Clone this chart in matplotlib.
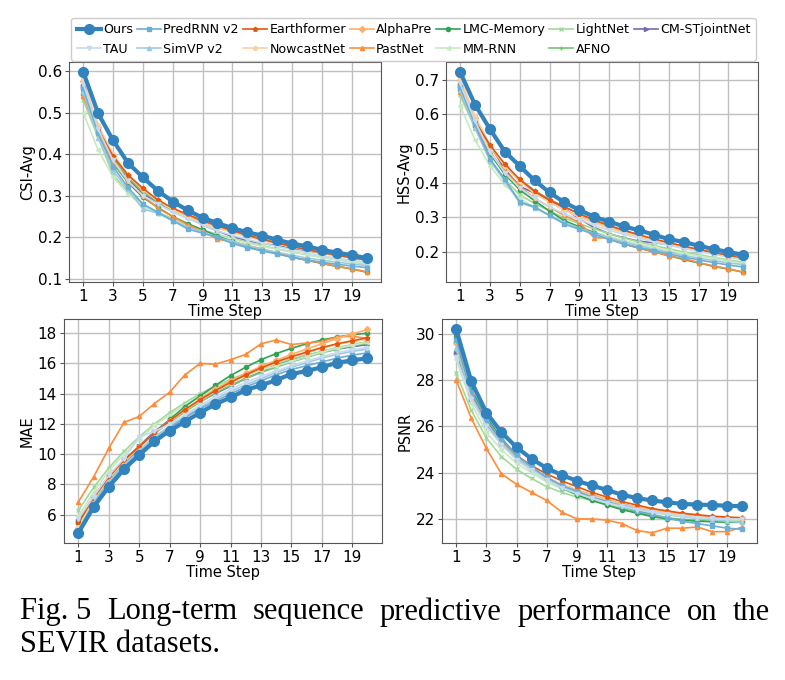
import matplotlib
matplotlib.use('Agg')
import matplotlib.pyplot as plt
import numpy as np

steps = np.arange(1, 21)

models = ['Ours', 'TAU', 'PredRNN v2', 'SimVP v2', 'Earthformer', 'NowcastNet',
          'AlphaPre', 'PastNet', 'LMC-Memory', 'MM-RNN', 'LightNet', 'AFNO',
          'CM-STjointNet']

csi = {
    'Ours': [0.598, 0.498, 0.433, 0.379, 0.344, 0.312, 0.286, 0.265, 0.247, 0.234,
             0.222, 0.212, 0.204, 0.194, 0.185, 0.178, 0.170, 0.163, 0.157, 0.150],
    'TAU': [0.57, 0.46, 0.385, 0.335, 0.30, 0.28, 0.26, 0.245, 0.23, 0.215,
            0.205, 0.195, 0.186, 0.178, 0.170, 0.163, 0.156, 0.150, 0.145, 0.140],
    'PredRNN v2': [0.56, 0.45, 0.37, 0.32, 0.28, 0.26, 0.24, 0.22, 0.21, 0.20,
                   0.185, 0.175, 0.167, 0.160, 0.152, 0.145, 0.140, 0.135, 0.131, 0.127],
    'SimVP v2': [0.55, 0.44, 0.36, 0.315, 0.268, 0.258, 0.24, 0.225, 0.213, 0.200,
                 0.190, 0.180, 0.171, 0.164, 0.157, 0.150, 0.145, 0.140, 0.136, 0.132],
    'Earthformer': [0.555, 0.46, 0.395, 0.35, 0.318, 0.29, 0.27, 0.255, 0.24, 0.228,
                    0.216, 0.205, 0.195, 0.186, 0.178, 0.170, 0.163, 0.157, 0.151, 0.145],
    'NowcastNet': [0.58, 0.47, 0.40, 0.35, 0.315, 0.288, 0.266, 0.248, 0.234, 0.222,
                   0.211, 0.201, 0.192, 0.184, 0.176, 0.169, 0.162, 0.156, 0.150, 0.145],
    'AlphaPre': [0.575, 0.465, 0.395, 0.35, 0.315, 0.29, 0.268, 0.25, 0.235, 0.224,
                 0.213, 0.203, 0.194, 0.186, 0.178, 0.171, 0.164, 0.158, 0.152, 0.147],
    'PastNet': [0.54, 0.45, 0.38, 0.335, 0.30, 0.27, 0.25, 0.23, 0.215, 0.195,
                0.19, 0.18, 0.172, 0.162, 0.152, 0.145, 0.138, 0.130, 0.124, 0.117],
    'LMC-Memory': [0.545, 0.45, 0.378, 0.332, 0.296, 0.272, 0.25, 0.233, 0.218, 0.203,
                   0.19, 0.178, 0.169, 0.161, 0.152, 0.145, 0.137, 0.130, 0.124, 0.116],
    'MM-RNN': [0.50, 0.41, 0.345, 0.305, 0.275, 0.257, 0.242, 0.228, 0.216, 0.205,
               0.195, 0.186, 0.178, 0.171, 0.164, 0.158, 0.152, 0.146, 0.141, 0.137],
    'LightNet': [0.53, 0.44, 0.35, 0.31, 0.28, 0.26, 0.245, 0.23, 0.218, 0.207,
                 0.197, 0.188, 0.180, 0.172, 0.165, 0.158, 0.152, 0.146, 0.141, 0.136],
    'AFNO': [0.565, 0.46, 0.39, 0.345, 0.31, 0.285, 0.265, 0.25, 0.238, 0.226,
             0.215, 0.205, 0.196, 0.188, 0.180, 0.172, 0.165, 0.158, 0.152, 0.146],
    'CM-STjointNet': [0.565, 0.46, 0.395, 0.34, 0.305, 0.283, 0.265, 0.25, 0.23, 0.215,
                      0.202, 0.192, 0.185, 0.180, 0.174, 0.168, 0.162, 0.157, 0.151, 0.146],
}

hss = {
    'Ours': [0.723, 0.628, 0.557, 0.491, 0.449, 0.407, 0.372, 0.343, 0.321, 0.301,
             0.287, 0.273, 0.262, 0.249, 0.236, 0.228, 0.217, 0.207, 0.199, 0.190],
    'TAU': [0.69, 0.58, 0.49, 0.43, 0.385, 0.355, 0.33, 0.31, 0.293, 0.276,
            0.262, 0.25, 0.239, 0.228, 0.218, 0.209, 0.200, 0.192, 0.184, 0.177],
    'PredRNN v2': [0.68, 0.57, 0.47, 0.41, 0.345, 0.33, 0.305, 0.28, 0.265, 0.25,
                   0.235, 0.222, 0.212, 0.203, 0.193, 0.184, 0.176, 0.168, 0.161, 0.155],
    'SimVP v2': [0.67, 0.56, 0.465, 0.405, 0.342, 0.328, 0.305, 0.285, 0.268, 0.253,
                 0.24, 0.228, 0.217, 0.207, 0.198, 0.189, 0.181, 0.174, 0.167, 0.162],
    'Earthformer': [0.675, 0.58, 0.51, 0.455, 0.41, 0.375, 0.35, 0.33, 0.31, 0.292,
                    0.276, 0.262, 0.249, 0.237, 0.226, 0.216, 0.206, 0.197, 0.188, 0.180],
    'NowcastNet': [0.705, 0.595, 0.51, 0.45, 0.405, 0.37, 0.343, 0.32, 0.30, 0.283,
                   0.268, 0.255, 0.243, 0.232, 0.222, 0.212, 0.203, 0.195, 0.187, 0.179],
    'AlphaPre': [0.70, 0.59, 0.505, 0.45, 0.405, 0.37, 0.345, 0.322, 0.302, 0.285,
                 0.27, 0.257, 0.245, 0.234, 0.224, 0.214, 0.205, 0.196, 0.188, 0.180],
    'PastNet': [0.665, 0.57, 0.49, 0.435, 0.39, 0.355, 0.33, 0.305, 0.285, 0.24,
                0.24, 0.222, 0.21, 0.20, 0.187, 0.18, 0.168, 0.158, 0.15, 0.14],
    'LMC-Memory': [0.67, 0.565, 0.485, 0.425, 0.38, 0.348, 0.318, 0.29, 0.272, 0.255,
                   0.238, 0.222, 0.21, 0.199, 0.188, 0.177, 0.167, 0.157, 0.149, 0.14],
    'MM-RNN': [0.625, 0.525, 0.45, 0.395, 0.355, 0.328, 0.306, 0.288, 0.272, 0.257,
               0.244, 0.232, 0.222, 0.212, 0.203, 0.195, 0.187, 0.180, 0.173, 0.166],
    'LightNet': [0.655, 0.56, 0.47, 0.41, 0.365, 0.34, 0.318, 0.298, 0.281, 0.266,
                 0.252, 0.239, 0.228, 0.218, 0.208, 0.199, 0.191, 0.183, 0.176, 0.169],
    'AFNO': [0.69, 0.585, 0.505, 0.45, 0.41, 0.378, 0.352, 0.33, 0.31, 0.29,
             0.275, 0.26, 0.247, 0.235, 0.224, 0.213, 0.203, 0.194, 0.185, 0.177],
    'CM-STjointNet': [0.685, 0.59, 0.51, 0.44, 0.39, 0.37, 0.348, 0.325, 0.295, 0.27,
                      0.252, 0.24, 0.23, 0.226, 0.22, 0.212, 0.205, 0.197, 0.19, 0.183],
}

mae = {
    'Ours': [4.8, 6.5, 7.85, 9.0, 9.95, 10.85, 11.55, 12.15, 12.75, 13.3,
             13.75, 14.25, 14.55, 14.9, 15.3, 15.5, 15.75, 16.05, 16.2, 16.35],
    'TAU': [5.7, 7.2, 8.6, 9.7, 11.15, 11.5, 12.0, 12.6, 13.25, 13.8,
            14.3, 14.75, 15.15, 15.5, 15.85, 16.15, 16.45, 16.7, 16.9, 17.05],
    'PredRNN v2': [4.9, 6.7, 8.05, 9.15, 10.1, 11.0, 11.75, 12.4, 13.0, 13.5,
                   14.0, 14.45, 14.85, 15.25, 15.6, 15.85, 16.1, 16.35, 16.55, 16.7],
    'SimVP v2': [5.0, 6.8, 8.2, 9.3, 10.25, 11.15, 11.85, 12.5, 13.1, 13.65,
                 14.15, 14.6, 15.0, 15.4, 15.75, 16.05, 16.35, 16.6, 16.8, 16.95],
    'Earthformer': [5.5, 7.1, 8.5, 9.6, 10.5, 11.4, 12.2, 12.95, 13.6, 14.2,
                    14.75, 15.25, 15.7, 16.1, 16.45, 16.75, 17.05, 17.3, 17.5, 17.7],
    'NowcastNet': [5.2, 7.0, 8.4, 9.5, 10.45, 11.35, 12.15, 12.9, 13.55, 14.15,
                   14.7, 15.2, 15.65, 16.05, 16.4, 16.7, 17.0, 17.25, 17.45, 17.6],
    'AlphaPre': [5.1, 7.0, 8.4, 9.5, 10.5, 11.4, 12.2, 12.95, 13.65, 14.3,
                 14.85, 15.35, 15.8, 16.2, 16.6, 16.95, 17.3, 17.65, 17.95, 18.25],
    'PastNet': [6.85, 8.5, 10.4, 12.1, 12.5, 13.35, 14.1, 15.25, 16.0, 15.95,
                16.25, 16.6, 17.3, 17.55, 17.25, 17.35, 17.45, 17.75, 17.8, 17.65],
    'LMC-Memory': [5.45, 6.9, 8.3, 9.25, 10.5, 11.4, 12.3, 13.15, 13.85, 14.55,
                   15.2, 15.75, 16.25, 16.65, 17.0, 17.3, 17.55, 17.75, 17.9, 18.0],
    'MM-RNN': [5.9, 7.5, 8.9, 10.0, 11.0, 11.9, 12.6, 13.25, 13.85, 14.35,
               14.8, 15.2, 15.55, 15.85, 16.15, 16.45, 16.75, 17.0, 17.2, 17.4],
    'LightNet': [6.3, 7.8, 9.1, 10.2, 11.15, 12.0, 12.75, 13.4, 14.0, 14.5,
                 14.95, 15.35, 15.7, 16.0, 16.3, 16.55, 16.8, 17.05, 17.25, 17.45],
    'AFNO': [5.35, 6.95, 8.35, 9.45, 10.45, 11.35, 12.1, 12.8, 13.45, 14.05,
             14.55, 15.0, 15.4, 15.75, 16.1, 16.4, 16.7, 16.95, 17.15, 17.35],
    'CM-STjointNet': [5.6, 7.2, 8.55, 9.6, 10.55, 11.5, 12.25, 12.9, 13.5, 14.0,
                      14.5, 15.0, 15.45, 15.9, 16.25, 16.55, 16.75, 16.95, 17.1, 17.25],
}

psnr = {
    'Ours': [30.2, 27.95, 26.6, 25.75, 25.1, 24.6, 24.2, 23.9, 23.65, 23.45,
             23.25, 23.05, 22.9, 22.8, 22.72, 22.65, 22.62, 22.6, 22.57, 22.55],
    'TAU': [29.0, 27.2, 26.0, 25.2, 24.55, 24.1, 23.7, 23.35, 23.1, 22.9,
            22.7, 22.55, 22.4, 22.3, 22.2, 22.12, 22.06, 22.02, 22.0, 22.0],
    'PredRNN v2': [29.75, 27.5, 26.3, 25.45, 24.75, 24.25, 23.8, 23.45, 23.2, 22.95,
                   22.75, 22.55, 22.35, 22.2, 22.05, 21.9, 21.8, 21.7, 21.6, 21.55],
    'SimVP v2': [29.4, 27.3, 26.15, 25.3, 24.65, 24.15, 23.75, 23.4, 23.15, 22.95,
                 22.75, 22.6, 22.45, 22.3, 22.2, 22.1, 22.02, 21.95, 21.9, 21.85],
    'Earthformer': [29.8, 27.35, 26.25, 25.4, 24.75, 24.3, 23.95, 23.65, 23.4, 23.15,
                    22.95, 22.75, 22.6, 22.45, 22.35, 22.25, 22.18, 22.12, 22.08, 22.05],
    'NowcastNet': [29.7, 27.45, 26.25, 25.4, 24.7, 24.2, 23.8, 23.5, 23.2, 23.0,
                   22.8, 22.62, 22.48, 22.35, 22.25, 22.15, 22.1, 22.05, 22.02, 22.0],
    'AlphaPre': [29.6, 27.4, 26.2, 25.35, 24.7, 24.2, 23.8, 23.5, 23.25, 23.05,
                 22.85, 22.65, 22.5, 22.4, 22.3, 22.2, 22.15, 22.1, 22.06, 22.05],
    'PastNet': [28.0, 26.35, 25.05, 23.95, 23.5, 23.15, 22.8, 22.3, 22.0, 22.0,
                21.95, 21.8, 21.5, 21.4, 21.6, 21.6, 21.65, 21.45, 21.45, 21.65],
    'LMC-Memory': [29.9, 27.6, 26.4, 25.5, 24.75, 24.2, 23.75, 23.35, 23.05, 22.8,
                   22.6, 22.4, 22.25, 22.1, 22.0, 21.95, 21.9, 21.88, 21.86, 21.85],
    'MM-RNN': [28.9, 27.0, 25.75, 25.0, 24.4, 24.0, 23.6, 23.3, 23.05, 22.85,
               22.68, 22.52, 22.38, 22.28, 22.18, 22.1, 22.04, 22.0, 21.97, 21.95],
    'LightNet': [28.3, 26.7, 25.5, 24.7, 24.15, 23.75, 23.4, 23.15, 22.95, 22.8,
                 22.65, 22.5, 22.4, 22.3, 22.2, 22.12, 22.06, 22.02, 21.98, 21.95],
    'AFNO': [29.3, 27.3, 26.1, 25.3, 24.6, 24.1, 23.7, 23.35, 23.1, 22.85,
             22.65, 22.45, 22.3, 22.15, 22.05, 21.98, 21.93, 21.9, 21.88, 21.87],
    'CM-STjointNet': [29.2, 27.2, 26.1, 25.25, 24.6, 24.15, 23.75, 23.45, 23.2, 23.0,
                      22.8, 22.65, 22.5, 22.38, 22.28, 22.2, 22.12, 22.06, 22.0, 21.95],
}

colors = {
    'Ours': '#3182bd', 'PredRNN v2': '#6baed6', 'SimVP v2': '#9ecae1', 'TAU': '#c6dbef',
    'Earthformer': '#e6550d', 'PastNet': '#fd8d3c', 'AlphaPre': '#fdae6b',
    'NowcastNet': '#fdd0a2', 'LMC-Memory': '#31a354', 'AFNO': '#74c476',
    'LightNet': '#a1d99b', 'MM-RNN': '#c7e9c0', 'CM-STjointNet': '#756bb1',
}
markers = {
    'Ours': 'o', 'PredRNN v2': 's', 'SimVP v2': '^', 'TAU': 'v', 'Earthformer': 'p',
    'PastNet': '^', 'AlphaPre': 'D', 'NowcastNet': 'h', 'LMC-Memory': 'o',
    'AFNO': '+', 'LightNet': 'x', 'MM-RNN': '<', 'CM-STjointNet': '>',
}

fig = plt.figure(figsize=(7.85, 6.8), dpi=100)
boxes = [[0.088, 0.585, 0.397, 0.324], [0.568, 0.585, 0.397, 0.324],
         [0.0815, 0.2015, 0.405, 0.329], [0.563, 0.2015, 0.401, 0.329]]
panels = [(csi, 'CSI-Avg', [0.1, 0.2, 0.3, 0.4, 0.5, 0.6]),
          (hss, 'HSS-Avg', [0.2, 0.3, 0.4, 0.5, 0.6, 0.7]),
          (mae, 'MAE', [6, 8, 10, 12, 14, 16, 18]),
          (psnr, 'PSNR', [22, 24, 26, 28, 30])]

for box, (data, ylab, yt) in zip(boxes, panels):
    ax = fig.add_axes(box)
    # draw others first, ours on top
    for m in models[::-1]:
        if m == 'Ours':
            ax.plot(steps, data[m], color=colors[m], marker='o', markersize=7,
                    linewidth=3, label=m, zorder=5)
        else:
            ax.plot(steps, data[m], color=colors[m], marker=markers[m], markersize=3,
                    linewidth=1.2, label=m)
    ax.set_xticks(np.arange(1, 21, 2))
    ax.set_yticks(yt)
    ax.grid(True, color='#c0c0c0', linewidth=1)
    ax.tick_params(labelsize=11, length=3, pad=2, color='#555555')
    for s in ax.spines.values():
        s.set_color('#555555')
    ax.set_xlabel('Time Step', fontsize=10.5, labelpad=0)
    ax.set_ylabel(ylab, fontsize=10.5, labelpad=2)
    if ylab == 'CSI-Avg':
        handles, labels = ax.get_legend_handles_labels()
        lookup = dict(zip(labels, handles))

fig.legend([lookup[m] for m in models], models, loc='center', ncol=7,
           bbox_to_anchor=(0.527, 0.942), fontsize=9.1, handlelength=1.9,
           handletextpad=0.2, columnspacing=0.3, borderpad=0.4, labelspacing=0.55,
           framealpha=1, edgecolor='#cccccc')

# justified caption
words = ['Fig. 5', 'Long-term', 'sequence', 'predictive', 'performance', 'on', 'the']
fig.canvas.draw()
renderer = fig.canvas.get_renderer()
x0, x1 = 20 / 785, 770 / 785
texts = []
widths = []
for w in words:
    t = fig.text(0, 1 - 612 / 680, w, fontsize=22, family='Liberation Serif',
                 va='center', ha='left')
    bb = t.get_window_extent(renderer)
    texts.append(t)
    widths.append(bb.width / fig.bbox.width)
gap = (x1 - x0 - sum(widths)) / (len(words) - 1)
x = x0
for t, w in zip(texts, widths):
    t.set_x(x)
    x += w + gap
fig.text(x0, 1 - 645 / 680, 'SEVIR datasets.', fontsize=22, family='Liberation Serif',
         va='center', ha='left')

fig.savefig('out.png', dpi=100)
